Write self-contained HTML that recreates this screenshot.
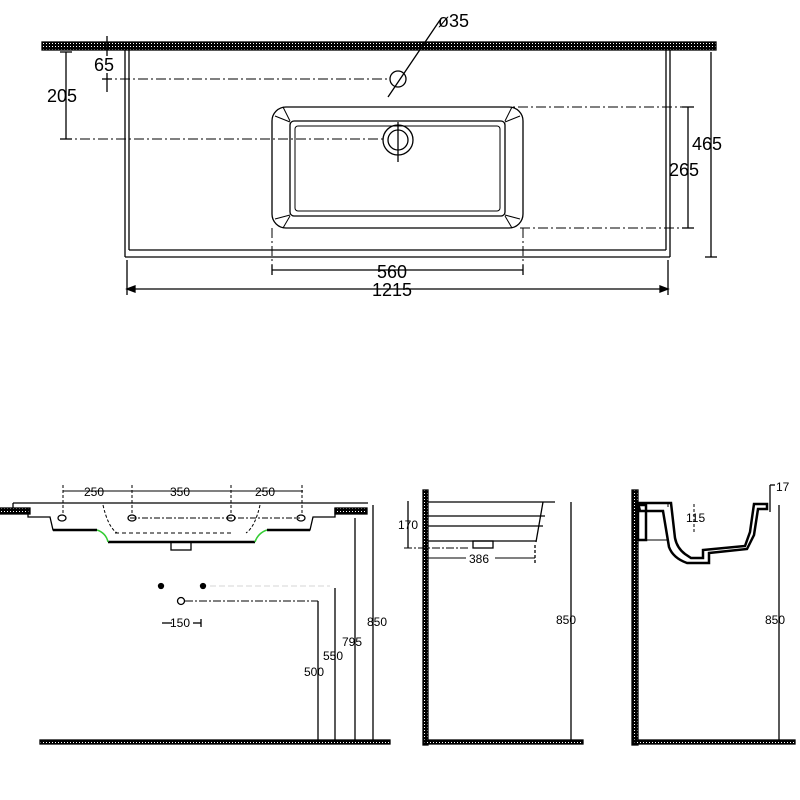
<!DOCTYPE html>
<html><head><meta charset="utf-8"><style>
html,body{margin:0;padding:0;background:#fff;}
svg{display:block;}
text{font-family:"Liberation Sans",sans-serif;fill:#000;}
</style></head><body>
<svg width="800" height="800" viewBox="0 0 800 800" xmlns="http://www.w3.org/2000/svg">
<defs>
<pattern id="hatch" width="3" height="3" patternUnits="userSpaceOnUse"><rect width="3" height="3" fill="#000"/><rect x="1" y="1" width="1" height="1" fill="#fff"/></pattern>
</defs>
<g stroke="#000" fill="none" stroke-width="1.3">
<!-- TOP VIEW -->
<rect x="42" y="42" width="674" height="8" fill="url(#hatch)" stroke="#000"/>
<line x1="125" y1="50" x2="125" y2="257"/>
<line x1="129" y1="50" x2="129" y2="250"/>
<line x1="125" y1="257" x2="670" y2="257"/>
<line x1="129" y1="250" x2="666" y2="250"/>
<line x1="670" y1="50" x2="670" y2="257"/>
<line x1="666" y1="50" x2="666" y2="250"/>
<rect x="272" y="107" width="251" height="121" rx="14"/>
<rect x="290" y="121" width="215" height="95" rx="4"/>
<rect x="295" y="126" width="205" height="85" rx="3" stroke-width="1"/>
<path d="M275 116 L290 122 M283 107 L290 121 M520 116 L505 122 M512 107 L505 121 M275 219 L290 215 M283 228 L290 216 M520 219 L505 215 M512 228 L505 216" stroke-width="1"/>
<circle cx="398" cy="140" r="15"/>
<circle cx="398" cy="140" r="10"/>
<line x1="398" y1="122" x2="398" y2="162"/>
<circle cx="398" cy="79" r="8"/>
<line x1="388" y1="97" x2="440" y2="20"/>
<g stroke-dasharray="10,3,2,3" stroke-width="1">
<line x1="62" y1="139" x2="385" y2="139"/>
<line x1="102" y1="79" x2="388" y2="79"/>
<line x1="500" y1="107" x2="692" y2="107"/>
<line x1="520" y1="228" x2="692" y2="228"/>
<line x1="272" y1="228" x2="272" y2="272"/>
<line x1="523" y1="228" x2="523" y2="272"/>
</g>
<line x1="66" y1="52" x2="66" y2="139"/><line x1="60" y1="52" x2="72" y2="52"/><line x1="60" y1="139" x2="72" y2="139"/>
<line x1="107" y1="36" x2="107" y2="56"/><line x1="107" y1="73" x2="107" y2="92"/><line x1="102" y1="79" x2="112" y2="79"/>
<line x1="711" y1="52" x2="711" y2="257"/><line x1="705" y1="257" x2="717" y2="257"/>
<line x1="688" y1="107" x2="688" y2="228"/><line x1="682" y1="107" x2="694" y2="107"/><line x1="682" y1="228" x2="694" y2="228"/>
<line x1="272" y1="270" x2="523" y2="270"/><line x1="272" y1="265" x2="272" y2="275"/><line x1="523" y1="265" x2="523" y2="275"/>
<line x1="127" y1="289" x2="668" y2="289"/><line x1="127" y1="260" x2="127" y2="295"/><line x1="668" y1="260" x2="668" y2="295"/>
<path d="M127 289 l8 -3 v6z M668 289 l-8 -3 v6z" fill="#000"/>

<!-- FRONT VIEW bottom left -->
<rect x="0" y="508" width="30" height="6" fill="url(#hatch)"/>
<rect x="335" y="508" width="32" height="6" fill="url(#hatch)"/>
<line x1="13" y1="503" x2="368" y2="503"/>
<line x1="13" y1="503" x2="13" y2="508"/>
<path d="M28 508 v9 h22 l3 13 h44 M108 542 h147 M267 530 h43 l3 -13 h22 v-9"/>
<path d="M53 530 h44 M267 530 h43" stroke-width="2.5"/>
<path d="M108 542 h147" stroke-width="2.5"/>
<path d="M97 530 q9 3 11 12 M267 530 q-9 3 -12 12" stroke="#3c3" stroke-width="1.5"/>
<path d="M103 505 q5 22 14 28 M260 505 q-5 22 -14 28" stroke-dasharray="3,2" stroke-width="1"/>
<rect x="171" y="542" width="20" height="8"/>
<line x1="115" y1="533" x2="232" y2="533" stroke-dasharray="4,3" stroke-width="1"/>
<line x1="130" y1="518" x2="300" y2="518" stroke-dasharray="6,2,2,2" stroke-width="1"/>
<ellipse cx="62" cy="518" rx="4" ry="3"/><ellipse cx="132" cy="518" rx="4" ry="3"/><ellipse cx="231" cy="518" rx="4" ry="3"/><ellipse cx="301" cy="518" rx="4" ry="3"/>
<line x1="63" y1="491" x2="303" y2="491" stroke-width="1"/>
<g stroke-dasharray="3,2" stroke-width="1"><line x1="63" y1="485" x2="63" y2="515"/><line x1="132" y1="485" x2="132" y2="515"/><line x1="231" y1="485" x2="231" y2="515"/><line x1="302" y1="485" x2="302" y2="515"/></g>
<circle cx="161" cy="586" r="2.5" fill="#000"/><circle cx="203" cy="586" r="2.5" fill="#000"/>
<circle cx="181" cy="601" r="3.5"/>
<line x1="185" y1="601" x2="318" y2="601" stroke-dasharray="8,2,2,2" stroke-width="1"/>
<line x1="210" y1="586" x2="330" y2="586" stroke-dasharray="6,3" stroke-width="0.6" stroke="#aaa"/>
<line x1="162" y1="623" x2="172" y2="623"/><line x1="193" y1="623" x2="201" y2="623"/><line x1="201" y1="619" x2="201" y2="627"/>
<rect x="40" y="740" width="350" height="4" fill="url(#hatch)"/>
<line x1="318" y1="601" x2="318" y2="740"/>
<line x1="335" y1="588" x2="335" y2="740"/>
<line x1="355" y1="518" x2="355" y2="740"/>
<line x1="373" y1="505" x2="373" y2="740"/>

<!-- SIDE VIEW middle -->
<rect x="423" y="490" width="5" height="255" fill="url(#hatch)"/>
<rect x="425" y="740" width="158" height="4" fill="url(#hatch)"/>
<line x1="428" y1="502" x2="555" y2="502"/>
<line x1="428" y1="516" x2="545" y2="516"/>
<line x1="428" y1="526" x2="543" y2="526"/>
<line x1="428" y1="541" x2="536" y2="541"/>
<path d="M543 502 l-7 40" />
<rect x="473" y="541" width="20" height="7"/>
<line x1="408" y1="501" x2="408" y2="548"/><line x1="404" y1="548" x2="470" y2="548" stroke-dasharray="8,2,2,2" stroke-width="1"/>
<line x1="428" y1="558" x2="466" y2="558" stroke-width="1"/><line x1="495" y1="558" x2="535" y2="558" stroke-width="1"/><line x1="535" y1="545" x2="535" y2="563" stroke-dasharray="3,2"/>
<line x1="571" y1="502" x2="571" y2="740"/>

<!-- SIDE VIEW right -->
<rect x="632" y="490" width="6" height="255" fill="url(#hatch)"/>
<rect x="635" y="740" width="160" height="4" fill="url(#hatch)"/>
<g stroke-width="2.5">
<path d="M638 503 h33 l4 35 q2 10 10 16 l6 4 h12 v-8 l42 -4 l5 -14 l4 -28 h13 v5 h-9 l-4 26 l-7 14 l-38 4 v10 h-22 q-14 -5 -18 -16 l-6 -36 h-23 z"/>
</g>
<rect x="638" y="505" width="8" height="35" stroke-width="2.5"/>
<path d="M646 540 h22 M668 503 v4" stroke-width="1"/>
<line x1="770" y1="485" x2="770" y2="512"/><line x1="770" y1="485" x2="775" y2="485"/>
<line x1="694" y1="504" x2="694" y2="532" stroke-dasharray="3,2" stroke-width="1"/>
<line x1="779" y1="505" x2="779" y2="740"/>
</g>
<g font-size="18">
<text x="438" y="27">ø35</text>
<text x="94" y="71">65</text>
<text x="47" y="102">205</text>
<text x="692" y="150">465</text>
<text x="669" y="176">265</text>
<text x="377" y="278">560</text>
<text x="372" y="296">1215</text>
</g>
<g font-size="12">
<text x="84" y="496">250</text>
<text x="170" y="496">350</text>
<text x="255" y="496">250</text>
<text x="170" y="627">150</text>
<text x="304" y="676">500</text>
<text x="323" y="660">550</text>
<text x="342" y="646">795</text>
<text x="367" y="626">850</text>
<text x="398" y="529">170</text>
<text x="469" y="563">386</text>
<text x="556" y="624">850</text>
<text x="686" y="522">115</text>
<text x="776" y="491">17</text>
<text x="765" y="624">850</text>
</g>
</svg>
</body></html>
